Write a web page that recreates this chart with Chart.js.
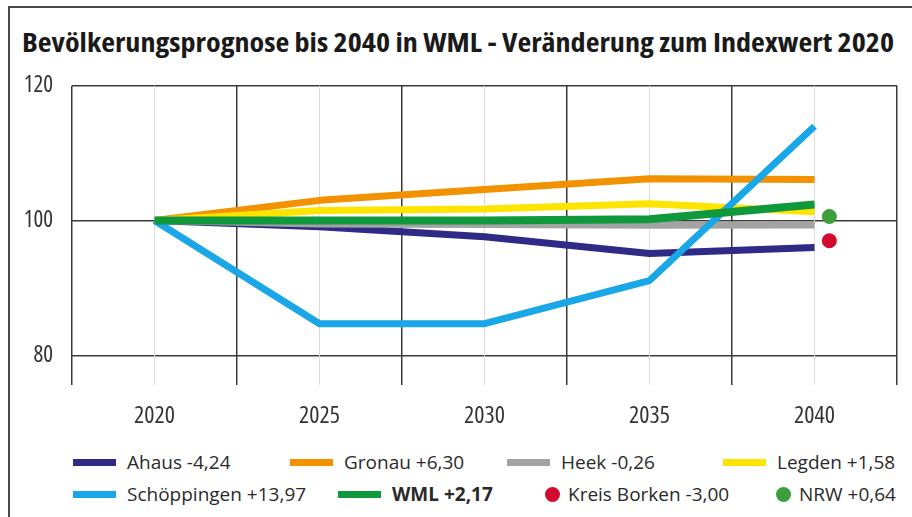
<!DOCTYPE html>
<html lang="de">
<head>
<meta charset="utf-8">
<script src="https://cdn.jsdelivr.net/npm/chart.js@4/dist/chart.umd.min.js"></script>
<style>
  html, body { margin: 0; padding: 0; background: #fff; }
  body { width: 912px; height: 517px; position: relative; overflow: hidden;
         font-family: "Open Sans", sans-serif; color: #222; }
  #frame { position: absolute; left: 8px; top: 6px; right: -10px; bottom: -10px;
           border-left: 2px solid #4a4a4a; border-top: 2px solid #4a4a4a; }
  #title { position: absolute; left: 22px; top: 29px; font-size: 26px; line-height: 26px;
           font-weight: 700; font-stretch: condensed; color: #1a1a1a; white-space: nowrap;
           transform: scaleX(1.157); transform-origin: 0 0; }
  #chart { position: absolute; left: 0; top: 53px; }
  .item { position: absolute; display: flex; align-items: center; height: 20px;
          font-size: 19px; line-height: 20px; white-space: nowrap; color: #2a2a2a; }
  .line { display: inline-block; width: 43px; height: 7px; margin-right: 11px; }
  .dot { display: inline-block; width: 15px; height: 15px; border-radius: 50%; margin-right: 8px; }
</style>
</head>
<body>
<div id="frame"></div>
<div id="title">Bevölkerungsprognose bis 2040 in WML - Veränderung zum Indexwert 2020</div>
<canvas id="chart" width="912" height="380"></canvas>
<div id="legend"></div>
<script>
const years = ["2020", "2025", "2030", "2035", "2040"];
const yTicks = [80, 100, 120];

const ahaus = [100, 99.1, 97.6, 95.1, 96.0];
const gronau = [100, 103.0, 104.6, 106.2, 106.1];
const heek = [100, 99.5, 99.4, 99.3, 99.35];
const legden = [100, 101.5, 101.7, 102.5, 101.3];
const schoeppingen = [100, 84.7, 84.7, 91.1, 114.0];
const wml = [100, 100, 100, 100.2, 102.4];
const kreisBorken = 97.0;
const nrw = 100.6;

const names = ["Ahaus", "Gronau", "Heek", "Legden", "Schöppingen", "WML", "Kreis Borken", "NRW"];
const changes = ["-4,24", "+6,30", "-0,26", "+1,58", "+13,97", "+2,17", "-3,00", "+0,64"];
const colors = ["#2e2a86", "#f39200", "#a3a3a3", "#ffe400", "#1aa7e8", "#10983c", "#d20a2e", "#3c9f3c"];

const lineSeries = [ahaus, gronau, heek, legden, schoeppingen, wml];
const tickFont = { family: "'Open Sans', sans-serif", weight: "400 condensed" };

const datasets = lineSeries.map((data, i) => ({
  label: names[i],
  data: data,
  borderColor: colors[i],
  backgroundColor: colors[i],
  borderWidth: i === 5 ? 8 : 7,
  pointRadius: 0,
  tension: 0,
  borderCapStyle: "butt",
  borderJoinStyle: "round",
  order: 10 - i
}));

[kreisBorken, nrw].forEach((v, k) => {
  datasets.push({
    label: names[6 + k],
    type: "scatter",
    xAxisID: "xp",
    data: [{ x: 2040.45, y: v }],
    pointRadius: 7.5,
    pointHoverRadius: 7.5,
    backgroundColor: colors[6 + k],
    borderWidth: 0,
    order: 0
  });
});

new Chart(document.getElementById("chart"), {
  type: "line",
  data: { labels: years, datasets: datasets },
  options: {
    responsive: false,
    devicePixelRatio: 1,
    animation: false,
    layout: { padding: { top: 0, right: 15, bottom: 0, left: 0 } },
    plugins: { legend: { display: false }, tooltip: { enabled: false } },
    scales: {
      y: {
        min: 75.6,
        max: 120,
        afterBuildTicks: s => { s.ticks = yTicks.map(v => ({ value: v })); },
        afterFit: s => { s.width = 72; },
        border: { display: false },
        grid: { color: "#3a3a3a", lineWidth: 1.5, drawTicks: false },
        ticks: { color: "#333", padding: 19, font: { ...tickFont, size: 23 } }
      },
      x: {
        offset: true,
        afterFit: s => { s.height = 48; },
        border: { display: false },
        grid: { color: "#3a3a3a", lineWidth: 1.5, drawTicks: false, offset: true },
        ticks: { color: "#333", padding: 17, font: { ...tickFont, size: 24 } }
      },
      x2: {
        type: "category",
        position: "bottom",
        offset: true,
        afterFit: s => { s.height = 0; },
        border: { display: false },
        grid: { color: "#dcdcdc", lineWidth: 1, drawTicks: false, offset: false },
        ticks: { display: false }
      },
      xp: {
        type: "linear",
        display: false,
        min: 2017.5,
        max: 2042.5
      }
    }
  }
});

const legendLeft = [73, 290, 507, 723, 73, 338, 545, 776];
const legendTop = [452, 484];
const legend = document.getElementById("legend");
names.forEach((n, i) => {
  const item = document.createElement("div");
  item.className = "item";
  item.style.left = legendLeft[i] + "px";
  item.style.top = legendTop[i < 4 ? 0 : 1] + "px";
  const mark = document.createElement("span");
  mark.className = i < 6 ? "line" : "dot";
  mark.style.background = colors[i];
  const txt = document.createElement("span");
  txt.textContent = n + " " + changes[i];
  if (n === "WML") txt.style.fontWeight = "700";
  item.appendChild(mark);
  item.appendChild(txt);
  legend.appendChild(item);
});
</script>
</body>
</html>
